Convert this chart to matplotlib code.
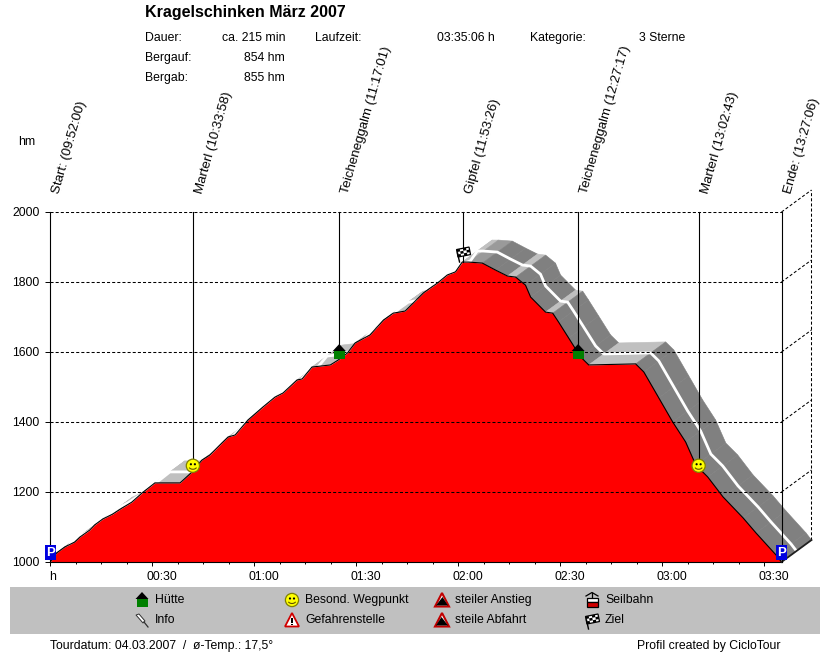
import numpy as np
import matplotlib
matplotlib.use('Agg')
import matplotlib.pyplot as plt
from matplotlib.collections import PolyCollection
from matplotlib.patches import Polygon, Rectangle, Circle, Arc
from matplotlib.transforms import Affine2D

plt.rcParams['font.family'] = ['Liberation Sans', 'DejaVu Sans']
plt.rcParams['font.size'] = 8.8
plt.rcParams['lines.scale_dashes'] = False

# Hoehenprofil: Minuten seit Start / Hoehe in m
minutes = [0, 1.9, 4.3, 7.2, 8.7, 11.6, 13.1, 15.5, 18.4, 21.1, 24.0, 27.0, 30.8, 38.2, 41.7,
           44.6, 47.0, 50.5, 52.3, 54.4, 58.2, 62.6, 66.1, 68.5, 72.6, 74.1, 77.0, 82.4, 84.7,
           87.4, 89.7, 94.1, 98.0, 100.9, 104.4, 109.8, 113.9, 116.8, 119.2, 121.2, 123.0,
           127.1, 131.0, 134.5, 136.9, 139.8, 141.3, 145.7, 147.8, 149.5, 152.5, 156.0, 158.4,
           172.2, 174.6, 179.0, 183.1, 186.9, 189.9, 193.4, 197.9, 203.8, 207.6, 213.5, 215.1]
elevation = [1000, 1026, 1043, 1057, 1071, 1091, 1106, 1123, 1137, 1154, 1171, 1197, 1226, 1226, 1257,
             1291, 1306, 1340, 1357, 1363, 1406, 1443, 1471, 1483, 1520, 1523, 1557, 1563, 1577,
             1597, 1626, 1649, 1691, 1711, 1717, 1769, 1797, 1820, 1829, 1857, 1857,
             1854, 1834, 1817, 1814, 1791, 1757, 1714, 1711, 1686, 1640, 1586, 1563,
             1566, 1543, 1469, 1400, 1343, 1277, 1243, 1186, 1126, 1083, 1020, 1000]

# Wegpunkte
way_minutes = [0, 41.97, 85.02, 121.43, 155.28, 190.72, 215.1]
way_elev = [1000, 1275, 1600, 1857, 1600, 1275, 1000]
way_labels = ['Start: (09:52:00)', 'Marterl (10:33:58)', 'Teicheneggalm (11:17:01)', 'Gipfel (11:53:26)',
              'Teicheneggalm (12:27:17)', 'Marterl (13:02:43)', 'Ende: (13:27:06)']
way_icons = ['park', 'smile', 'hut', 'flag', 'hut', 'smile', 'park']

y_ticks = [1000, 1200, 1400, 1600, 1800, 2000]
x_ticks = [0, 30, 60, 90, 120, 150, 180, 210]
x_labels = ['h', '00:30', '01:00', '01:30', '02:00', '02:30', '03:00', '03:30']

legend_items = [('hut', 'Hütte', 142, 600), ('pin', 'Info', 142, 620),
                ('smile', 'Besond. Wegpunkt', 292, 600), ('warn', 'Gefahrenstelle', 292, 620),
                ('up', 'steiler Anstieg', 442, 600), ('down', 'steile Abfahrt', 442, 620),
                ('cable', 'Seilbahn', 592, 600), ('flag', 'Ziel', 592, 620)]

W, H = 830, 652
fig = plt.figure(figsize=(W / 100, H / 100), dpi=100)
ax = fig.add_axes([50.2 / W, (H - 562) / H, 731.3 / W, 350 / H])
ax.set_xlim(0, 215.1)
ax.set_ylim(1000, 2000)

# Pixel-Koordinaten von oben links, fuer Kopf, Legende und Symbole
px = Affine2D().scale(1, -1).translate(0, H)

t = np.array(minutes)
e = np.array(elevation)
depth_t = 30 / 3.4
depth_e = 22 / 0.35

# 3D-Band hinter dem Profil
polys = []
colors = []
for i in range(len(t) - 1):
    polys.append([(t[i], e[i]), (t[i + 1], e[i + 1]),
                  (t[i + 1] + depth_t, e[i + 1] + depth_e), (t[i] + depth_t, e[i] + depth_e)])
    slope = (e[i + 1] - e[i]) / (t[i + 1] - t[i]) * 0.35 / 3.4
    if slope < -0.1 and slope > -0.2:
        colors.append('#c0c0c0')
    elif slope < 0 and slope >= -0.1:
        colors.append('#9a9a9a')
    elif slope < 0:
        colors.append('#808080')
    else:
        colors.append('#c0c0c0')
band = PolyCollection(polys, facecolors=colors, edgecolors=colors, linewidths=0.4, zorder=1, clip_on=False)
ax.add_collection(band)
ax.plot(t + depth_t / 2, e + depth_e / 2, color='white', lw=2, zorder=1.5, clip_on=False)

ax.fill_between(t, e, 1000, color='#ff0000', lw=0, zorder=2)
ax.plot(t, e, color='black', lw=0.8, zorder=3)

# Gitter und rechte Wand
dash = (0, (2.2, 1.5))
for g in y_ticks[1:]:
    ax.plot([0, t[-1]], [g, g], color='black', lw=0.75, ls=dash, zorder=4)
    ax.plot([t[-1], t[-1] + depth_t], [g, g + depth_e], color='black', lw=0.75, ls=dash, zorder=4, clip_on=False)
ax.plot([t[-1] + depth_t] * 2, [1000 + depth_e, 2000 + depth_e], color='black', lw=0.75, ls=dash, zorder=4, clip_on=False)
ax.plot([t[-1], t[-1] + depth_t], [1000, 1000 + depth_e], color='#202020', lw=1.3, zorder=4, clip_on=False)

# Wegpunkt-Linien und Beschriftung
for m, v, lbl in zip(way_minutes, way_elev, way_labels):
    ax.plot([m, m], [v, 2000], color='black', lw=0.8, zorder=5, clip_on=False)
    ax.annotate(lbl, (m, 2000), xytext=(12, 17), textcoords='offset pixels', rotation=74,
                rotation_mode='anchor', ha='left', va='bottom', fontsize=9.5)

for s in ['top', 'left', 'right']:
    ax.spines[s].set_visible(False)
ax.spines['bottom'].set_linewidth(0.8)
ax.patch.set_visible(False)
ax.set_yticks(y_ticks)
ax.tick_params(axis='y', length=3.6, width=0.7, pad=4, labelsize=8.8)
ax.set_xticks(x_ticks)
ax.set_xticklabels([])
ax.set_xticks(np.arange(0, 215, 7.5), minor=True)
ax.tick_params(axis='x', which='major', length=3, width=0.7)
ax.tick_params(axis='x', which='minor', length=1.5, width=0.7)
for m, lbl in zip(x_ticks, x_labels):
    ax.annotate(lbl, (m, 1000), xytext=(-1 if m == 0 else -6, -15), textcoords='offset pixels',
                ha='left', va='center')


def add(artist):
    artist.set_transform(px)
    artist.set_clip_on(False)
    artist.set_zorder(10)
    fig.add_artist(artist)


def poly(pts, fc, ec='none', lw=0.7):
    add(Polygon(pts, closed=True, facecolor=fc, edgecolor=ec, linewidth=lw))


def draw_flag(x, y):
    # kariert auf einem leicht schiefen Viereck
    p0 = np.array([x - 6.5, y - 3.5])
    ex = np.array([12.5, -2.5])
    ey = np.array([1.5, 7.5])
    poly([p0, p0 + ex, p0 + ex + ey, p0 + ey], 'white', 'black', 0.9)
    for r in range(3):
        for c in range(4):
            if (r + c) % 2 == 0:
                a = p0 + ex * c / 4 + ey * r / 3
                poly([a, a + ex / 4, a + ex / 4 + ey / 3, a + ey / 3], 'black')
    add(plt.Line2D([x - 5.5, x - 3.5], [y, y + 9], color='black', linewidth=1))


def draw_icon(kind, x, y):
    if kind == 'park':
        add(Rectangle((x - 5.5, y - 7.5), 11, 15, facecolor='#0000e0', edgecolor='none'))
        fig.text(x, y + 0.5, 'P', transform=px, color='white', fontsize=9.5, fontweight='bold',
                 ha='center', va='center', zorder=11)
    elif kind == 'smile':
        add(Circle((x, y), 6.6, facecolor='#ffff00', edgecolor='#808000', linewidth=0.9))
        add(Circle((x - 2, y - 1.5), 1.1, facecolor='black', edgecolor='none'))
        add(Circle((x + 2, y - 1.5), 1.1, facecolor='black', edgecolor='none'))
        add(Arc((x, y + 0.5), 8, 6, theta1=20, theta2=160, color='#605000', linewidth=0.8))
    elif kind == 'hut':
        poly([(x - 6.5, y - 1), (x + 6.5, y - 1), (x, y - 8)], 'black')
        add(Rectangle((x - 5.5, y - 1), 11, 7.5, facecolor='#008000', edgecolor='none'))
    elif kind == 'flag':
        draw_flag(x, y)
    elif kind == 'pin':
        poly([(x - 6, y - 5), (x - 3, y - 6), (x + 3, y + 1), (x + 1, y + 3)], 'white', '#303030', 0.7)
        add(plt.Line2D([x + 2, x + 6], [y + 2, y + 7], color='#303030', linewidth=0.9))
    elif kind == 'warn':
        poly([(x, y - 7), (x + 7, y + 6.5), (x - 7, y + 6.5)], 'white', '#d00000', 1.3)
        add(Rectangle((x - 1, y - 2.5), 2, 5.5, facecolor='black', edgecolor='none'))
        add(Rectangle((x - 1, y + 3.5), 2, 1.8, facecolor='black', edgecolor='none'))
    elif kind == 'up':
        poly([(x, y - 7), (x + 7, y + 6.5), (x - 7, y + 6.5)], 'white', '#c00000', 1.5)
        poly([(x + 6, y + 5.5), (x - 6, y + 5.5), (x + 0.5, y - 3)], 'black')
    elif kind == 'down':
        poly([(x, y - 7), (x + 7, y + 6.5), (x - 7, y + 6.5)], 'white', '#c00000', 1.5)
        poly([(x - 6, y + 5.5), (x + 6, y + 5.5), (x - 0.5, y - 3)], 'black')
    elif kind == 'cable':
        add(plt.Line2D([x - 6, x, x + 6], [y - 4, y - 7.5, y - 4], color='black', linewidth=0.9))
        add(plt.Line2D([x, x], [y - 7, y - 2], color='black', linewidth=0.9))
        add(Rectangle((x - 5.5, y - 2), 11, 4, facecolor='white', edgecolor='black', linewidth=0.9))
        add(Rectangle((x - 5.5, y + 2), 11, 4.5, facecolor='#d00000', edgecolor='black', linewidth=0.9))


# Symbole auf dem Profil (Position ueber die Datenachsen)
fig.canvas.draw()
to_px = ax.transData.transform
for m, v, kind in zip(way_minutes, way_elev, way_icons):
    dx, dy = to_px((m, v))
    dy = H - dy
    if kind == 'park':
        dy -= 9.5
    elif kind == 'flag':
        dy -= 9
    draw_icon(kind, dx, dy)

# Legende
add(Rectangle((10, 587), 810, 47, facecolor='#c0c0c0', edgecolor='none'))
for kind, lbl, x, y in legend_items:
    draw_icon(kind, x, y)
    fig.text(x + 13, y, lbl, transform=px, va='center', ha='left', zorder=11)

# Kopf
fig.text(145, 13, 'Kragelschinken März 2007', transform=px, va='center', fontsize=11.5, fontweight='bold')
fig.text(18, 142, 'hm', transform=px, va='center')
for x, y, s, ha in [(145, 38, 'Dauer:', 'left'), (285, 38, 'ca. 215 min', 'right'), (315, 38, 'Laufzeit:', 'left'),
                    (495, 38, '03:35:06 h', 'right'), (530, 38, 'Kategorie:', 'left'), (639, 38, '3 Sterne', 'left'),
                    (145, 58, 'Bergauf:', 'left'), (285, 58, '854 hm', 'right'),
                    (145, 78, 'Bergab:', 'left'), (285, 78, '855 hm', 'right')]:
    fig.text(x, y, s, transform=px, va='center', ha=ha)

# Fusszeile
fig.text(50, 646, 'Tourdatum: 04.03.2007  /  ø-Temp.: 17,5°', transform=px, va='center')
fig.text(637, 646, 'Profil created by CicloTour', transform=px, va='center')

fig.savefig('out.png', dpi=100)
